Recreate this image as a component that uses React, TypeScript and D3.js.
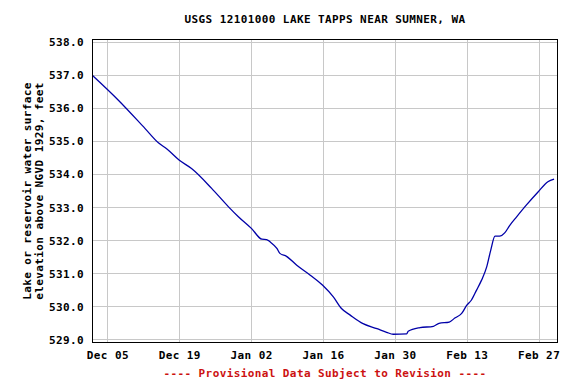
import React from 'react';
import * as d3 from 'd3';

// Gage readings (local time, feet above NGVD 1929)
const readingTimes = [
  '2022-12-02 00:00', '2022-12-07 01:00', '2022-12-12 06:00', '2022-12-14 20:00',
  '2022-12-16 12:00', '2022-12-18 22:00', '2022-12-21 07:00', '2022-12-25 05:00',
  '2022-12-28 12:00', '2022-12-30 10:00', '2023-01-02 00:00', '2023-01-04 00:00',
  '2023-01-04 22:00', '2023-01-05 14:00', '2023-01-06 22:00', '2023-01-07 12:00',
  '2023-01-08 19:00', '2023-01-10 19:00', '2023-01-13 10:00', '2023-01-15 19:00',
  '2023-01-17 22:00', '2023-01-19 12:00', '2023-01-21 05:00', '2023-01-23 17:00',
  '2023-01-26 10:00', '2023-01-28 07:00', '2023-01-29 14:00', '2023-02-01 05:00',
  '2023-02-01 12:00', '2023-02-03 19:00', '2023-02-06 10:00', '2023-02-07 12:00',
  '2023-02-09 12:00', '2023-02-10 14:00', '2023-02-11 22:00', '2023-02-12 22:00',
  '2023-02-13 19:00', '2023-02-14 19:00', '2023-02-15 19:00', '2023-02-16 19:00',
  '2023-02-17 14:00', '2023-02-18 10:00', '2023-02-19 07:00', '2023-02-20 07:00',
  '2023-02-21 07:00', '2023-02-22 14:00', '2023-02-24 12:00', '2023-02-26 19:00',
  '2023-02-28 17:00', '2023-03-01 22:00',
];

const elevations = [
  537.0, 536.25, 535.39, 534.96,
  534.77, 534.43, 534.18, 533.58,
  533.02, 532.72, 532.36, 532.04,
  532.03, 531.96, 531.76, 531.61,
  531.52, 531.25, 530.95, 530.65,
  530.29, 529.94, 529.74, 529.48,
  529.33, 529.22, 529.16, 529.17,
  529.25, 529.36, 529.4, 529.49,
  529.53, 529.65, 529.79, 530.04,
  530.19, 530.49, 530.8, 531.2,
  531.71, 532.13, 532.13, 532.23,
  532.46, 532.71, 533.07, 533.47,
  533.78, 533.86,
];

const xTickDates = ['2022-12-05', '2022-12-19', '2023-01-02', '2023-01-16', '2023-01-30', '2023-02-13', '2023-02-27'];
const yTickValues = [529, 530, 531, 532, 533, 534, 535, 536, 537, 538];

const chartTitle = 'USGS 12101000 LAKE TAPPS NEAR SUMNER, WA';
const yTitleLines = ['Lake or reservoir water surface', 'elevation above NGVD 1929, feet'];
const footerText = '---- Provisional Data Subject to Revision ----';

const width = 576;
const height = 384;
const plotLeft = 92.5;
const plotRight = 557.5;
const plotTop = 39.5;
const plotBottom = 342.5;

const font = '"DejaVu Sans Mono", "Liberation Mono", monospace';

const parseTime = d3.timeParse('%Y-%m-%d %H:%M');
const parseDay = d3.timeParse('%Y-%m-%d');

const App = () => {
  const points = readingTimes.map((t, i) => ({ date: parseTime(t) as Date, value: elevations[i] }));

  const x = d3.scaleTime()
    .domain([new Date(2022, 11, 2, 0), new Date(2023, 2, 2, 14)])
    .range([plotLeft, plotRight]);

  const y = d3.scaleLinear()
    .domain([528.91, 538.09])
    .range([plotBottom, plotTop]);

  const line = d3.line<{ date: Date; value: number }>()
    .x(d => x(d.date))
    .y(d => y(d.value))
    .curve(d3.curveMonotoneX);

  const fmtDate = d3.timeFormat('%b %d');
  const fmtValue = d3.format('.1f');
  const crisp = (v: number) => Math.round(v - 0.5) + 0.5;

  const textStyle = { fontFamily: font, fontWeight: 'bold' as const, fontSize: 11, letterSpacing: 0.4 };

  return (
    <div style={{ position: 'absolute', left: 0, top: 0 }}>
      <svg width={width} height={height} style={{ display: 'block', background: '#fff' }}>
        {/* grid */}
        {yTickValues.map(v => (
          <line key={'gy' + v} x1={plotLeft} x2={plotRight} y1={crisp(y(v))} y2={crisp(y(v))}
            stroke="#c8c8c8" strokeWidth={1} />
        ))}
        {xTickDates.map(d => {
          const px = crisp(x(parseDay(d) as Date));
          return <line key={'gx' + d} x1={px} x2={px} y1={plotTop} y2={plotBottom} stroke="#c8c8c8" strokeWidth={1} />;
        })}

        {/* data */}
        <path d={line(points) || ''} fill="none" stroke="#0000a8" strokeWidth={1.3} />

        {/* frame */}
        <rect x={plotLeft} y={plotTop} width={plotRight - plotLeft} height={plotBottom - plotTop}
          fill="none" stroke="#000" strokeWidth={1} />

        {/* y tick labels */}
        {yTickValues.map(v => (
          <text key={'ty' + v} x={84} y={y(v) + 4} textAnchor="end" style={textStyle} fill="#000">
            {fmtValue(v)}
          </text>
        ))}

        {/* x tick labels */}
        {xTickDates.map(d => (
          <text key={'tx' + d} x={x(parseDay(d) as Date)} y={359} textAnchor="middle" style={textStyle} fill="#000">
            {fmtDate(parseDay(d) as Date)}
          </text>
        ))}

        {/* title */}
        <text x={(plotLeft + plotRight) / 2} y={22.5} textAnchor="middle" style={textStyle} fill="#000">
          {chartTitle}
        </text>

        {/* y axis title */}
        {yTitleLines.map((t, i) => (
          <text key={t} transform={`translate(${31 + i * 12}, ${(plotTop + plotBottom) / 2}) rotate(-90)`}
            textAnchor="middle" style={textStyle} fill="#000">
            {t}
          </text>
        ))}

        {/* footer */}
        <text x={(plotLeft + plotRight) / 2} y={377} textAnchor="middle" style={textStyle} fill="#cc1111">
          {footerText}
        </text>
      </svg>
    </div>
  );
};

export default App;
